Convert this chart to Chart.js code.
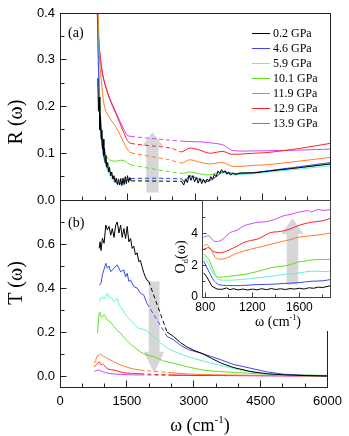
<!DOCTYPE html>
<html>
<head>
<meta charset="utf-8">
<script src="https://cdn.jsdelivr.net/npm/chart.js@4.4.1/dist/chart.umd.min.js"></script>
<style>
  html, body { margin: 0; padding: 0; background: #fff; }
  #wrap { position: relative; width: 349px; height: 436px; overflow: hidden; }
  canvas { position: absolute; left: 0; top: 0; }
</style>
</head>
<body>
<div id="wrap">
  <canvas id="cA" width="349" height="436"></canvas>
  <canvas id="cB" width="349" height="436"></canvas>
  <canvas id="cC" width="349" height="436"></canvas>
</div>
<script>
// ---- data ----------------------------------------------------------
const pressures = ['0.2 GPa', '4.6 GPa', '5.9 GPa', '10.1 GPa', '11.9 GPa', '12.9 GPa', '13.9 GPa'];
const colors = ['#000000', '#3a48f0', '#5ef2d6', '#5ee01a', '#ff7a26', '#ff2020', '#cc44ff'];

const xTicks = [0, 1500, 3000, 4500, 6000];
const xMinor = [500, 1000, 2000, 2500, 3500, 4000, 5000, 5500];
const rTicks = [0, 0.1, 0.2, 0.3, 0.4];
const rMinor = [0.05, 0.15, 0.25, 0.35];
const tTicks = [0, 0.2, 0.4, 0.6];
const tMinor = [0.1, 0.3, 0.5, 0.7];
const insetXTicks = [800, 1200, 1600];
const insetXMinor = [1000, 1400, 1800];
const insetYTicks = [0, 2, 4];
const insetYMinor = [1, 3, 5];

// reflectivity R(w), [w, R]
const R_02 = [[840,0.26],[855,0.19],[870,0.22],[885,0.15],[900,0.18],[915,0.13],[930,0.15],[945,0.11],[960,0.13],[975,0.095],[990,0.11],[1005,0.08],[1020,0.095],[1040,0.07],[1060,0.08],[1080,0.06],[1100,0.07],[1125,0.052],[1150,0.06],[1175,0.045],[1200,0.052],[1225,0.038],[1250,0.047],[1275,0.033],[1300,0.045],[1325,0.032],[1350,0.046],[1375,0.031],[1400,0.047],[1425,0.033],[1450,0.05],[1475,0.035],[1500,0.052],[1525,0.038],[1550,0.048],[1580,0.041],[2700,0.040],[2750,0.032],[2790,0.045],[2830,0.037],[2870,0.053],[2910,0.042],[2950,0.052],[2990,0.039],[3030,0.048],[3070,0.036],[3110,0.046],[3150,0.035],[3190,0.044],[3230,0.036],[3270,0.045],[3310,0.04],[3350,0.05],[3390,0.044],[3430,0.055],[3470,0.05],[3510,0.062],[3550,0.057],[3590,0.065],[3630,0.059],[3670,0.063],[3710,0.055],[3750,0.06],[3790,0.053],[3840,0.058],[3900,0.054],[4000,0.058],[4300,0.058],[4655,0.062],[5300,0.069],[6000,0.077]];
const R_46 = [[820,0.45],[850,0.3],[880,0.2],[920,0.135],[960,0.1],[1027,0.075],[1100,0.062],[1173,0.048],[1250,0.038],[1330,0.036],[1420,0.039],[1506,0.043],[1580,0.046],[2700,0.045],[2760,0.038],[2878,0.051],[3100,0.044],[3285,0.040],[3470,0.05],[3618,0.06],[3840,0.057],[4284,0.058],[4655,0.063],[5300,0.071],[6000,0.080]];
const R_59 = [[820,0.45],[850,0.3],[880,0.2],[920,0.13],[960,0.095],[1027,0.07],[1100,0.053],[1173,0.042],[1250,0.036],[1330,0.034],[1420,0.039],[1506,0.044],[1580,0.046],[2700,0.045],[2760,0.040],[2878,0.052],[3100,0.046],[3285,0.042],[3470,0.05],[3618,0.058],[3840,0.055],[4284,0.056],[4655,0.06],[5300,0.066],[6000,0.073]];
const R_101 = [[820,0.45],[850,0.33],[880,0.23],[915,0.15],[960,0.115],[1027,0.095],[1100,0.086],[1200,0.083],[1300,0.084],[1400,0.085],[1500,0.079],[1580,0.075],[2700,0.057],[2878,0.060],[3100,0.056],[3322,0.054],[3618,0.060],[3840,0.054],[4300,0.059],[4655,0.062],[5300,0.069],[6000,0.077]];
const R_119 = [[800,0.5],[850,0.4],[880,0.3],[950,0.225],[1000,0.195],[1100,0.176],[1200,0.162],[1280,0.15],[1400,0.126],[1500,0.108],[1580,0.101],[2433,0.086],[2700,0.079],[2878,0.086],[3100,0.081],[3322,0.077],[3618,0.080],[3840,0.072],[4300,0.074],[4655,0.076],[5300,0.083],[6000,0.091]];
const R_129 = [[790,0.5],[830,0.4],[870,0.33],[944,0.27],[1100,0.217],[1255,0.182],[1400,0.148],[1500,0.127],[1580,0.121],[2470,0.111],[2700,0.103],[2878,0.111],[3100,0.107],[3322,0.100],[3618,0.104],[3803,0.098],[4300,0.100],[4655,0.102],[5300,0.110],[6000,0.121]];
const R_139 = [[790,0.5],[830,0.4],[870,0.33],[944,0.271],[1020,0.24],[1100,0.219],[1255,0.185],[1400,0.155],[1500,0.138],[1580,0.136],[2433,0.128],[2700,0.126],[2900,0.125],[3174,0.124],[3450,0.121],[3618,0.118],[3840,0.106],[4300,0.105],[4877,0.106],[5400,0.107],[6000,0.109]];

// transmission T(w), [w, T]
const T_02 = [[878,0.58],[900,0.61],[920,0.57],[951,0.626],[989,0.603],[1027,0.686],[1062,0.664],[1100,0.68],[1138,0.64],[1173,0.67],[1211,0.63],[1249,0.686],[1284,0.70],[1322,0.65],[1360,0.686],[1395,0.63],[1433,0.67],[1471,0.625],[1507,0.68],[1544,0.61],[1582,0.625],[1618,0.58],[1655,0.59],[1693,0.55],[1729,0.56],[1767,0.52],[1804,0.525],[1840,0.497],[1878,0.47],[1915,0.45],[1951,0.436],[1990,0.43],[2400,0.2],[2544,0.18],[2700,0.152],[2840,0.133],[3000,0.117],[3211,0.10],[3400,0.08],[3618,0.058],[3900,0.038],[4284,0.02],[4655,0.01],[5026,0.005],[5500,0.002],[6000,0.0]];
const T_46 = [[878,0.414],[920,0.42],[951,0.46],[1027,0.512],[1062,0.49],[1100,0.50],[1138,0.474],[1211,0.49],[1284,0.505],[1360,0.474],[1433,0.482],[1471,0.45],[1507,0.467],[1544,0.43],[1582,0.436],[1655,0.406],[1729,0.40],[1804,0.376],[1878,0.368],[1951,0.33],[2400,0.18],[2544,0.165],[2700,0.14],[2878,0.12],[3174,0.103],[3400,0.088],[3618,0.073],[3900,0.052],[4284,0.035],[4655,0.018],[5026,0.008],[5500,0.003],[6000,0.0]];
const T_59 = [[878,0.338],[950,0.36],[990,0.35],[1062,0.376],[1100,0.355],[1140,0.36],[1211,0.338],[1284,0.353],[1322,0.32],[1360,0.315],[1433,0.29],[1507,0.27],[1582,0.255],[1655,0.24],[1729,0.222],[1800,0.215],[1878,0.212],[1951,0.205],[2100,0.18],[2249,0.152],[2433,0.125],[2544,0.113],[2840,0.09],[3211,0.068],[3600,0.048],[4000,0.03],[4500,0.012],[5000,0.004],[6000,0.0]];
const T_101 = [[840,0.194],[878,0.285],[900,0.29],[930,0.265],[960,0.27],[990,0.28],[1027,0.265],[1062,0.255],[1100,0.25],[1173,0.235],[1249,0.215],[1322,0.20],[1360,0.194],[1433,0.175],[1507,0.16],[1582,0.145],[1655,0.133],[1800,0.11],[1951,0.095],[2100,0.088],[2300,0.07],[2544,0.058],[2900,0.04],[3211,0.027],[3600,0.02],[4000,0.015],[5000,0.006],[6000,0.003]];
const T_119 = [[767,0.058],[800,0.07],[830,0.09],[878,0.095],[920,0.1],[960,0.09],[1000,0.088],[1062,0.08],[1200,0.065],[1360,0.05],[1500,0.04],[1650,0.032],[1804,0.027],[2500,0.015],[3000,0.008],[4000,0.004],[5000,0.002],[6000,0.0]];
const T_129 = [[767,0.042],[800,0.05],[840,0.055],[878,0.065],[920,0.05],[960,0.055],[1027,0.04],[1100,0.03],[1211,0.027],[1360,0.018],[1500,0.013],[1655,0.012],[1804,0.01],[2500,0.005],[3000,0.003],[4000,0.002],[6000,0.0]];
const T_139 = [[767,0.02],[810,0.025],[878,0.027],[950,0.02],[1100,0.012],[1300,0.008],[1655,0.005],[1804,0.005],[2500,0.003],[6000,0.0]];

// inset: O_d(w), [w, value]
const S_02 = [[786,1.52],[810,1.3],[857,0.67],[900,0.5],[940,0.48],[980,0.57],[1010,0.46],[1040,0.52],[1080,0.45],[1120,0.5],[1160,0.44],[1200,0.5],[1240,0.45],[1280,0.52],[1320,0.46],[1360,0.53],[1400,0.47],[1440,0.52],[1480,0.47],[1520,0.53],[1560,0.5],[1600,0.55],[1640,0.5],[1680,0.58],[1720,0.55],[1760,0.62],[1800,0.6],[1866,0.72]];
const S_46 = [[786,2.26],[829,1.63],[871,1.06],[914,0.78],[1000,0.72],[1100,0.72],[1243,0.78],[1357,0.8],[1471,0.85],[1586,0.9],[1700,0.99],[1800,1.02],[1866,1.1]];
const S_59 = [[786,2.48],[829,2.06],[871,1.42],[914,1.1],[1014,1.06],[1128,1.12],[1243,1.2],[1357,1.3],[1471,1.42],[1586,1.5],[1700,1.63],[1800,1.6],[1866,1.63]];
const S_101 = [[786,2.69],[829,2.37],[871,1.63],[900,1.27],[971,1.27],[1050,1.35],[1128,1.42],[1243,1.6],[1357,1.84],[1414,1.9],[1471,1.95],[1530,2.05],[1586,2.2],[1640,2.25],[1700,2.33],[1866,2.37]];
const S_119 = [[786,3.21],[810,3.3],[840,3.1],[857,2.9],[886,2.48],[929,2.37],[990,2.48],[1050,2.7],[1128,2.9],[1185,3.0],[1243,3.11],[1300,3.2],[1357,3.32],[1414,3.42],[1471,3.53],[1530,3.62],[1586,3.75],[1640,3.8],[1700,3.85],[1780,3.92],[1866,4.02]];
const S_129 = [[786,3.0],[829,3.1],[857,2.9],[900,2.8],[929,2.79],[970,2.85],[1014,3.0],[1070,3.2],[1128,3.43],[1185,3.55],[1243,3.64],[1300,3.85],[1357,4.06],[1414,4.1],[1471,4.17],[1530,4.3],[1586,4.48],[1640,4.6],[1700,4.7],[1760,4.75],[1800,4.8],[1866,4.95]];
const S_139 = [[786,3.75],[829,3.85],[871,3.53],[914,3.5],[950,3.64],[1014,4.06],[1070,4.2],[1128,4.48],[1185,4.6],[1243,4.7],[1300,4.72],[1357,4.8],[1414,4.95],[1471,5.12],[1530,5.2],[1586,5.33],[1630,5.38],[1671,5.44],[1700,5.35],[1757,5.5],[1800,5.45],[1866,5.5]];

// dashed (interpolated) ranges, cm^-1
const rGap = [1580, 2700];
const tGaps = [[1990, 2400], [1951, 2400], null, null, [1804, 2500], [1804, 2500], [1804, 2500]];

// gray arrows: [w center, shaft half width, head half width, tail, head base, tip]
const arrowR = [2055, 137, 233, 0.016, 0.116, 0.145];
const arrowT = [2111, 122, 230, 0.43, 0.11, 0.012];
const arrowS = [1541, 49, 95, 0.78, 3.96, 4.95];

// ---- helpers -------------------------------------------------------
const SERIF = '"Liberation Serif", "Times New Roman", serif';
const SANS = '"Liberation Sans", Arial, sans-serif';
Chart.defaults.font.family = SANS;

function series(points, i, gap, smooth) {
  return {
    label: pressures[i],
    data: points.map(p => ({ x: p[0], y: p[1] })),
    borderColor: colors[i],
    borderWidth: 1,
    pointRadius: 0,
    tension: smooth ? 0.3 : 0,
    segment: {
      borderDash: c => (gap && c.p0.parsed.x >= gap[0] && c.p1.parsed.x <= gap[1]) ? [4, 3] : undefined
    }
  };
}

function drawArrow(chart, a) {
  const { ctx, scales: { x, y } } = chart;
  const cx = a[0];
  ctx.save();
  ctx.fillStyle = '#d6d6d6';
  ctx.beginPath();
  ctx.moveTo(x.getPixelForValue(cx - a[1]), y.getPixelForValue(a[3]));
  ctx.lineTo(x.getPixelForValue(cx - a[1]), y.getPixelForValue(a[4]));
  ctx.lineTo(x.getPixelForValue(cx - a[2]), y.getPixelForValue(a[4]));
  ctx.lineTo(x.getPixelForValue(cx), y.getPixelForValue(a[5]));
  ctx.lineTo(x.getPixelForValue(cx + a[2]), y.getPixelForValue(a[4]));
  ctx.lineTo(x.getPixelForValue(cx + a[1]), y.getPixelForValue(a[4]));
  ctx.lineTo(x.getPixelForValue(cx + a[1]), y.getPixelForValue(a[3]));
  ctx.closePath();
  ctx.fill();
  ctx.restore();
}

function drawFrame(chart, o) {
  const { ctx, chartArea: a, scales: { x, y } } = chart;
  const L = Math.floor(a.left) + 0.5, R = Math.floor(a.right) + 0.5;
  const T = Math.floor(a.top) + 0.5, B = Math.floor(a.bottom) + 0.5;
  ctx.save();
  ctx.strokeStyle = o.color;
  ctx.lineWidth = 1;
  ctx.beginPath();
  const xt = (list, len) => list.forEach(v => {
    const p = Math.floor(x.getPixelForValue(v)) + 0.5;
    ctx.moveTo(p, B); ctx.lineTo(p, B - len);
  });
  const yt = (list, len) => list.forEach(v => {
    const p = Math.floor(y.getPixelForValue(v)) + 0.5;
    ctx.moveTo(L, p); ctx.lineTo(L + len, p);
  });
  xt(o.xMajor, o.major); xt(o.xMinor, o.minor);
  yt(o.yMajor, o.major - 1); yt(o.yMinor, o.minor);
  ctx.stroke();
  ctx.strokeRect(L, T, R - L, B - T);
  ctx.restore();
}

function omegaTitle(ctx, cx, base, size) {
  const big = size + 'px ' + SERIF, small = Math.round(size * 0.6) + 'px ' + SERIF;
  ctx.font = big; const wa = ctx.measureText('\u03c9 (cm').width; const wb = ctx.measureText(')').width;
  ctx.font = small; const ws = ctx.measureText('-1').width;
  let px = cx - (wa + ws + wb) / 2;
  ctx.textAlign = 'left'; ctx.textBaseline = 'alphabetic';
  ctx.font = big; ctx.fillText('\u03c9 (cm', px, base); px += wa;
  ctx.font = small; ctx.fillText('-1', px, base - size * 0.45); px += ws;
  ctx.font = big; ctx.fillText(')', px, base);
}

function makeChart(id, datasets, o) {
  return new Chart(document.getElementById(id), {
    type: 'line',
    data: { datasets },
    options: {
      responsive: false,
      animation: false,
      events: [],
      layout: { padding: o.padding },
      plugins: { legend: { display: false }, tooltip: { enabled: false } },
      scales: {
        x: {
          type: 'linear', min: o.xMin, max: o.xMax,
          grid: { display: false, drawTicks: false }, border: { display: false },
          afterBuildTicks: s => { s.ticks = o.xLabels.map(v => ({ value: v })); },
          afterFit: s => { s.height = o.xH; },
          ticks: { display: o.showX, padding: o.xPad, autoSkip: false, maxRotation: 0, color: '#000',
                   font: { size: o.fs, family: SANS }, callback: v => String(v) }
        },
        y: {
          type: 'linear', min: o.yMin, max: o.yMax,
          grid: { display: false, drawTicks: false }, border: { display: false },
          afterBuildTicks: s => { s.ticks = o.yLabels.map(v => ({ value: v })); },
          afterFit: s => { s.width = o.yW; },
          ticks: { padding: o.yPad, autoSkip: false, color: '#000',
                   font: { size: o.fs, family: SANS }, callback: v => v.toFixed(o.yDec) }
        }
      }
    },
    plugins: [{
      id: 'deco' + id,
      beforeDraw: c => { if (o.before) o.before(c); },
      beforeDatasetsDraw: c => drawArrow(c, o.arrow),
      afterDraw: c => { drawFrame(c, o.frame); if (o.after) o.after(c); }
    }]
  });
}

// ---- panel (a): reflectivity ----------------------------------------
const rSeries = [R_02, R_46, R_59, R_101, R_119, R_129, R_139];
makeChart('cA', rSeries.map((d, i) => series(d, i, rGap, i > 0)), {
  padding: { top: 13, right: 19, bottom: 236, left: 0 },
  xMin: 0, xMax: 6000, xLabels: xTicks, showX: false, xH: 0, xPad: 0,
  yMin: 0, yMax: 0.4, yLabels: rTicks, yW: 60, yPad: 5, yDec: 1, fs: 13,
  arrow: arrowR,
  frame: { color: '#222', xMajor: xTicks, xMinor: xMinor, yMajor: rTicks, yMinor: rMinor, major: 7, minor: 4 },
  after: c => {
    const ctx = c.ctx;
    ctx.save();
    ctx.fillStyle = '#000';
    ctx.font = '14px ' + SERIF;
    ctx.textAlign = 'left'; ctx.textBaseline = 'middle';
    ctx.fillText('(a)', 68, 33);
    // legend
    ctx.font = '12px ' + SERIF;
    pressures.forEach((p, i) => {
      const yy = Math.round(33 + i * 15) + 0.5;
      ctx.strokeStyle = colors[i]; ctx.lineWidth = 1;
      ctx.beginPath(); ctx.moveTo(252, yy); ctx.lineTo(270, yy); ctx.stroke();
      ctx.fillText(p, 273, yy);
    });
    // y titles
    ctx.font = '20px ' + SERIF;
    ctx.textAlign = 'center'; ctx.textBaseline = 'middle';
    ctx.translate(17, 122); ctx.rotate(-Math.PI / 2); ctx.fillText('R (\u03c9)', 0, 0);
    ctx.setTransform(1, 0, 0, 1, 0, 0);
    ctx.translate(17, 283); ctx.rotate(-Math.PI / 2); ctx.fillText('T (\u03c9)', 0, 0);
    ctx.setTransform(1, 0, 0, 1, 0, 0);
    omegaTitle(ctx, 200, 431, 18);
    ctx.restore();
  }
});

// ---- panel (b): transmission ----------------------------------------
const tSeries = [T_02, T_46, T_59, T_101, T_119, T_129, T_139];
makeChart('cB', tSeries.map((d, i) => series(d, i, tGaps[i], i > 1)), {
  padding: { top: 200, right: 19, bottom: 0, left: 0 },
  xMin: 0, xMax: 6000, xLabels: xTicks, showX: true, xH: 49, xPad: 7,
  yMin: -0.05, yMax: 0.8, yLabels: tTicks, yW: 60, yPad: 5, yDec: 1, fs: 13,
  arrow: arrowT,
  frame: { color: '#222', xMajor: xTicks, xMinor: xMinor, yMajor: tTicks, yMinor: tMinor, major: 7, minor: 4 },
  after: c => {
    const ctx = c.ctx;
    ctx.save();
    ctx.fillStyle = '#000';
    ctx.font = '14px ' + SERIF;
    ctx.textAlign = 'left'; ctx.textBaseline = 'middle';
    ctx.fillText('(b)', 68, 223);
    ctx.restore();
  }
});

// ---- inset -----------------------------------------------------------
const sSeries = [S_02, S_46, S_59, S_101, S_119, S_129, S_139];
makeChart('cC', sSeries.map((d, i) => series(d, i, null, i > 0)), {
  padding: { top: 200, right: 19, bottom: 106, left: 170 },
  xMin: 772, xMax: 1860, xLabels: insetXTicks, showX: true, xH: 33, xPad: 3,
  yMin: 0, yMax: 6.1, yLabels: insetYTicks, yW: 32, yPad: 4, yDec: 0, fs: 12,
  arrow: arrowS,
  frame: { color: '#444', xMajor: insetXTicks, xMinor: insetXMinor, yMajor: insetYTicks, yMinor: insetYMinor, major: 5, minor: 3 },
  before: c => {
    const ctx = c.ctx;
    ctx.save(); ctx.fillStyle = '#fff'; ctx.fillRect(171, 201, 159, 130); ctx.restore();
  },
  after: c => {
    const ctx = c.ctx;
    ctx.save();
    ctx.fillStyle = '#000';
    omegaTitle(ctx, 278, 326, 14);
    // rotated O_d(w)
    ctx.translate(180, 257); ctx.rotate(-Math.PI / 2);
    const big = '14px ' + SERIF, sub = '9px ' + SERIF;
    ctx.font = big; const w1 = ctx.measureText('O').width, w3 = ctx.measureText('(\u03c9)').width;
    ctx.font = sub; const w2 = ctx.measureText('d').width;
    let px = -(w1 + w2 + w3) / 2;
    ctx.textAlign = 'left'; ctx.textBaseline = 'alphabetic';
    ctx.font = big; ctx.fillText('O', px, 5); px += w1;
    ctx.font = sub; ctx.fillText('d', px, 8); px += w2;
    ctx.font = big; ctx.fillText('(\u03c9)', px, 5);
    ctx.restore();
  }
});
</script>
</body>
</html>
